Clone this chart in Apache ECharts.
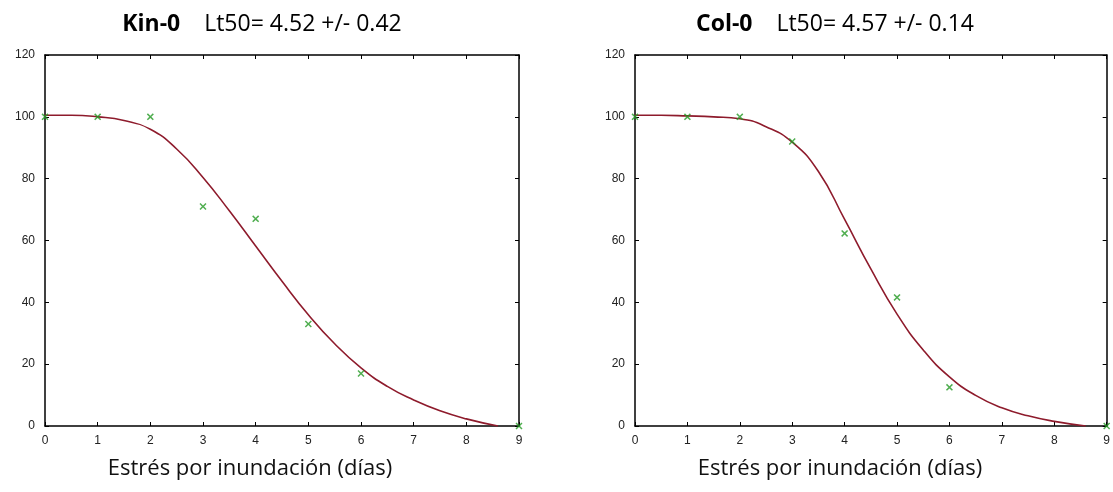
<!DOCTYPE html>
<html>
<head>
<meta charset="utf-8">
<script src="https://cdn.jsdelivr.net/npm/echarts@6/dist/echarts.min.js"></script>
<style>
html, body {
  margin: 0;
  padding: 0;
  background: #fff;
}
#chart {
  width: 1113px;
  height: 492px;
}
</style>
</head>
<body>
<div id="chart"></div>
<script>
// measured points (dias, % supervivencia)
const diasPts = [0, 1, 2, 3, 4, 5, 6, 9]
const kinPts = [100, 100, 100, 71, 67, 33, 17, 0]
const colPts = [100, 100, 100, 92, 62.3, 41.6, 12.5, 0]

// fitted curves, every half day
const diasFit = [0, 0.5, 1, 1.5, 2, 2.5, 3, 3.5, 4, 4.5, 5, 5.5, 6, 6.5, 7, 7.5, 8, 8.6]
const kinFit = [100.5, 100.5, 100, 98.8, 96, 89.6, 80.4, 69.6, 58.2, 46.8, 36, 26.6, 18.8, 12.8, 8.4, 4.9, 2.3, 0]
const colFit = [100.5, 100.5, 100.3, 100, 99.4, 96.8, 91.8, 82.3, 66.8, 50.8, 36.2, 24.6, 15.9, 9.9, 5.9, 3.3, 1.5, 0]

const xTicks = ['0', '1', '2', '3', '4', '5', '6', '7', '8', '9']
const yTicks = ['0', '20', '40', '60', '80', '100', '120']

const names = ['Kin-0', 'Col-0']
const lt50 = ['Lt50= 4.52 +/- 0.42', 'Lt50= 4.57 +/- 0.14']
const xName = 'Estrés por inundación (días)'

let chart = echarts.init(document.getElementById('chart'))

const crossPath = 'path://M0,1.5L1.5,0L5,3.5L8.5,0L10,1.5L6.5,5L10,8.5L8.5,10L5,6.5L1.5,10L0,8.5L3.5,5Z'
const titleFont = '"Open Sans", "Noto Sans", sans-serif'
const tickFont = '"Liberation Sans", Arial, sans-serif'

function pairs (xs, ys) {
  let out = []
  for (let i = 0; i < xs.length; i++) {
    out.push([xs[i], ys[i]])
  }
  return out
}

let grids = [
  { left: 45, right: 594, top: 55, bottom: 66 },
  { left: 635, right: 5, top: 55, bottom: 66 }
]

let xAxes = []
let yAxes = []
let series = []
let titles = []
let titleCenters = [257, 830]
let nameCenters = [245, 835]
let fits = [kinFit, colFit]
let pts = [kinPts, colPts]

let frameLine = { onZero: false, show: true, lineStyle: { color: '#000', width: 1.5 } }
let frameTick = { show: true, inside: true, length: 4, lineStyle: { color: '#000' } }

for (let g = 0; g < 2; g++) {
  xAxes.push({
    type: 'value',
    gridIndex: g,
    position: 'bottom',
    min: 0,
    max: 9,
    interval: 1,
    axisLine: frameLine,
    axisTick: frameTick,
    axisLabel: {
      color: '#222',
      fontFamily: tickFont,
      fontSize: 12,
      margin: 9,
      formatter: function (v) { return xTicks[v] }
    },
    splitLine: { show: false }
  })
  xAxes.push({
    type: 'value',
    gridIndex: g,
    position: 'top',
    min: 0,
    max: 9,
    interval: 1,
    axisLine: frameLine,
    axisTick: frameTick,
    axisLabel: { show: false },
    splitLine: { show: false }
  })
  yAxes.push({
    type: 'value',
    gridIndex: g,
    position: 'left',
    min: 0,
    max: 120,
    interval: 20,
    axisLine: frameLine,
    axisTick: frameTick,
    axisLabel: {
      color: '#222',
      fontFamily: tickFont,
      fontSize: 12,
      margin: 10,
      formatter: function (v) { return yTicks[v / 20] }
    },
    splitLine: { show: false }
  })
  yAxes.push({
    type: 'value',
    gridIndex: g,
    position: 'right',
    min: 0,
    max: 120,
    interval: 20,
    axisLine: frameLine,
    axisTick: frameTick,
    axisLabel: { show: false },
    splitLine: { show: false }
  })

  series.push({
    type: 'line',
    xAxisIndex: g * 2,
    yAxisIndex: g * 2,
    data: pairs(diasFit, fits[g]),
    smooth: 0.5,
    symbol: 'none',
    lineStyle: { color: '#8e1b2c', width: 1.6 },
    z: 2
  })
  series.push({
    type: 'scatter',
    xAxisIndex: g * 2,
    yAxisIndex: g * 2,
    data: pairs(diasPts, pts[g]),
    symbol: crossPath,
    symbolSize: 7,
    itemStyle: { color: '#249a24' },
    z: 3
  })

  titles.push({
    left: titleCenters[g],
    top: 8,
    textAlign: 'center',
    text: '{b|' + names[g] + '}{r|    ' + lt50[g] + '}',
    textStyle: {
      rich: {
        b: { fontFamily: titleFont, fontSize: 23, fontWeight: 'bold', color: '#000' },
        r: { fontFamily: titleFont, fontSize: 23, fontWeight: 'normal', color: '#000' }
      }
    }
  })
  // x axis name sits left of the plot centre in the original
  titles.push({
    left: nameCenters[g],
    top: 453,
    textAlign: 'center',
    text: xName,
    textStyle: { fontFamily: titleFont, fontSize: 22, fontWeight: 'normal', color: '#111' }
  })
}

let option = {
  animation: false,
  backgroundColor: '#fff',
  title: titles,
  grid: grids,
  xAxis: xAxes,
  yAxis: yAxes,
  series: series
}

chart.setOption(option)
</script>
</body>
</html>
